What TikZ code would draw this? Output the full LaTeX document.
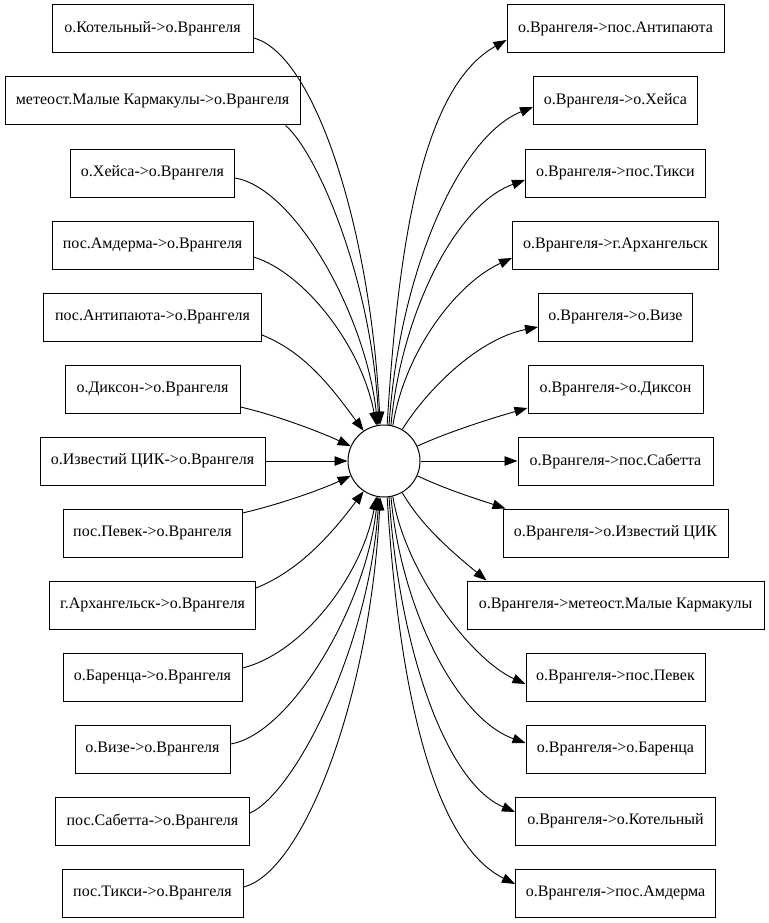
\documentclass[tikz,border=0pt]{standalone}
\usepackage{fontspec}
\setmainfont{Liberation Serif}
\usetikzlibrary{arrows.meta,calc}
\begin{document}
\begin{tikzpicture}[x=1pt,y=-1pt,
  box/.style={draw,rectangle,line width=1pt,minimum height=48pt,inner sep=0pt,
    font=\fontsize{16}{19}\selectfont},
  hub/.style={draw,circle,line width=1pt,minimum size=72pt,inner sep=0pt},
  edge/.style={line width=0.9pt,-{Triangle[length=13pt,width=9.5pt]}}]
\useasboundingbox (0,0) rectangle (768,923);

% central node
\node[hub] (C) at (384,461) {};

% incoming routes (left column)
\node[box,minimum width=201pt] (L1)  at (152.5,29)  {о.Котельный->о.Врангеля};
\node[box,minimum width=295pt] (L2)  at (152.5,101) {метеост.Малые Кармакулы->о.Врангеля};
\node[box,minimum width=164pt] (L3)  at (152.5,173) {о.Хейса->о.Врангеля};
\node[box,minimum width=201pt] (L4)  at (152.5,245) {пос.Амдерма->о.Врангеля};
\node[box,minimum width=218pt] (L5)  at (152.5,317) {пос.Антипаюта->о.Врангеля};
\node[box,minimum width=175pt] (L6)  at (152.5,389) {о.Диксон->о.Врангеля};
\node[box,minimum width=225pt] (L7)  at (152.5,461) {о.Известий ЦИК->о.Врангеля};
\node[box,minimum width=179pt] (L8)  at (152.5,533) {пос.Певек->о.Врангеля};
\node[box,minimum width=206pt] (L9)  at (152.5,605) {г.Архангельск->о.Врангеля};
\node[box,minimum width=179pt] (L10) at (152.5,677) {о.Баренца->о.Врангеля};
\node[box,minimum width=155pt] (L11) at (152.5,749) {о.Визе->о.Врангеля};
\node[box,minimum width=194pt] (L12) at (152.5,821) {пос.Сабетта->о.Врангеля};
\node[box,minimum width=181pt] (L13) at (152.5,893) {пос.Тикси->о.Врангеля};

% outgoing routes (right column)
\node[box,minimum width=217pt] (R1)  at (615.5,29)  {о.Врангеля->пос.Антипаюта};
\node[box,minimum width=164pt] (R2)  at (615.5,101) {о.Врангеля->о.Хейса};
\node[box,minimum width=180pt] (R3)  at (615.5,173) {о.Врангеля->пос.Тикси};
\node[box,minimum width=206pt] (R4)  at (615.5,245) {о.Врангеля->г.Архангельск};
\node[box,minimum width=154pt] (R5)  at (615.5,317) {о.Врангеля->о.Визе};
\node[box,minimum width=175pt] (R6)  at (615.5,389) {о.Врангеля->о.Диксон};
\node[box,minimum width=195pt] (R7)  at (615.5,461) {о.Врангеля->пос.Сабетта};
\node[box,minimum width=225pt] (R8)  at (615.5,533) {о.Врангеля->о.Известий ЦИК};
\node[box,minimum width=297pt] (R9)  at (615.5,605) {о.Врангеля->метеост.Малые Кармакулы};
\node[box,minimum width=179pt] (R10) at (615.5,677) {о.Врангеля->пос.Певек};
\node[box,minimum width=179pt] (R11) at (615.5,749) {о.Врангеля->о.Баренца};
\node[box,minimum width=200pt] (R12) at (615.5,821) {о.Врангеля->о.Котельный};
\node[box,minimum width=200pt] (R13) at (615.5,893) {о.Врангеля->пос.Амдерма};

% edges into the hub
\draw[edge] ($(L1.east)+(0,9)$) .. controls +(60,15) and +(-10,-200) .. (C.96);
\draw[edge] ($(L2.south east)+(-15,0)$) .. controls +(30,25) and +(-8,-150) .. (C.98);
\draw[edge] ($(L3.east)+(0,5)$) .. controls +(60,10) and +(-12,-110) .. (C.100);
\draw[edge] ($(L4.east)+(0,12)$) .. controls +(50,15) and +(-15,-80) .. (C.102);
\draw[edge] ($(L5.east)+(0,18)$) .. controls +(45,18) and +(-30,-40) .. (C.124);
\draw[edge] ($(L6.east)+(0,18)$) .. controls +(35,8) and +(-30,-14) .. (C.156);
\draw[edge] (L7.east) -- (C.180);
\draw[edge] ($(L8.east)+(0,-20)$) .. controls +(35,-8) and +(-30,14) .. (C.204);
\draw[edge] ($(L9.east)+(0,-17)$) .. controls +(45,-18) and +(-30,40) .. (C.236);
\draw[edge] ($(L10.east)+(0,-9)$) .. controls +(60,-15) and +(-15,80) .. (C.258);
\draw[edge] ($(L11.east)+(0,-5)$) .. controls +(60,-10) and +(-12,110) .. (C.260);
\draw[edge] ($(L12.east)+(0,-8)$) .. controls +(45,-20) and +(-10,150) .. (C.262);
\draw[edge] ($(L13.east)+(0,-6)$) .. controls +(60,-15) and +(-10,200) .. (C.264);

% edges out of the hub
\draw[edge] (C.85) .. controls +(12,-200) and +(-80,45) .. ($(R1.west)+(0,11)$);
\draw[edge] (C.82) .. controls +(10,-150) and +(-75,30) .. ($(R2.west)+(0,6)$);
\draw[edge] (C.79) .. controls +(10,-110) and +(-70,25) .. ($(R3.west)+(0,7)$);
\draw[edge] (C.76) .. controls +(12,-75) and +(-55,25) .. ($(R4.west)+(0,13)$);
\draw[edge] (C.60) .. controls +(25,-40) and +(-60,12) .. ($(R5.west)+(0,10)$);
\draw[edge] (C.24) .. controls +(30,-14) and +(-35,10) .. ($(R6.west)+(0,19)$);
\draw[edge] (C.0) -- (R7.west);
\draw[edge] (C.-24) .. controls +(30,14) and +(-30,-10) .. ($(R8.north west)+(3,0)$);
\draw[edge] (C.-60) .. controls +(20,35) and +(-30,-25) .. ($(R9.north west)+(20,0)$);
\draw[edge] (C.-76) .. controls +(12,75) and +(-55,-25) .. ($(R10.west)+(0,7)$);
\draw[edge] (C.-79) .. controls +(10,110) and +(-70,-25) .. ($(R11.west)+(0,-6)$);
\draw[edge] (C.-82) .. controls +(10,150) and +(-70,-30) .. ($(R12.west)+(0,-9)$);
\draw[edge] (C.-85) .. controls +(12,200) and +(-80,-40) .. ($(R13.west)+(0,-9)$);
\end{tikzpicture}
\end{document}
